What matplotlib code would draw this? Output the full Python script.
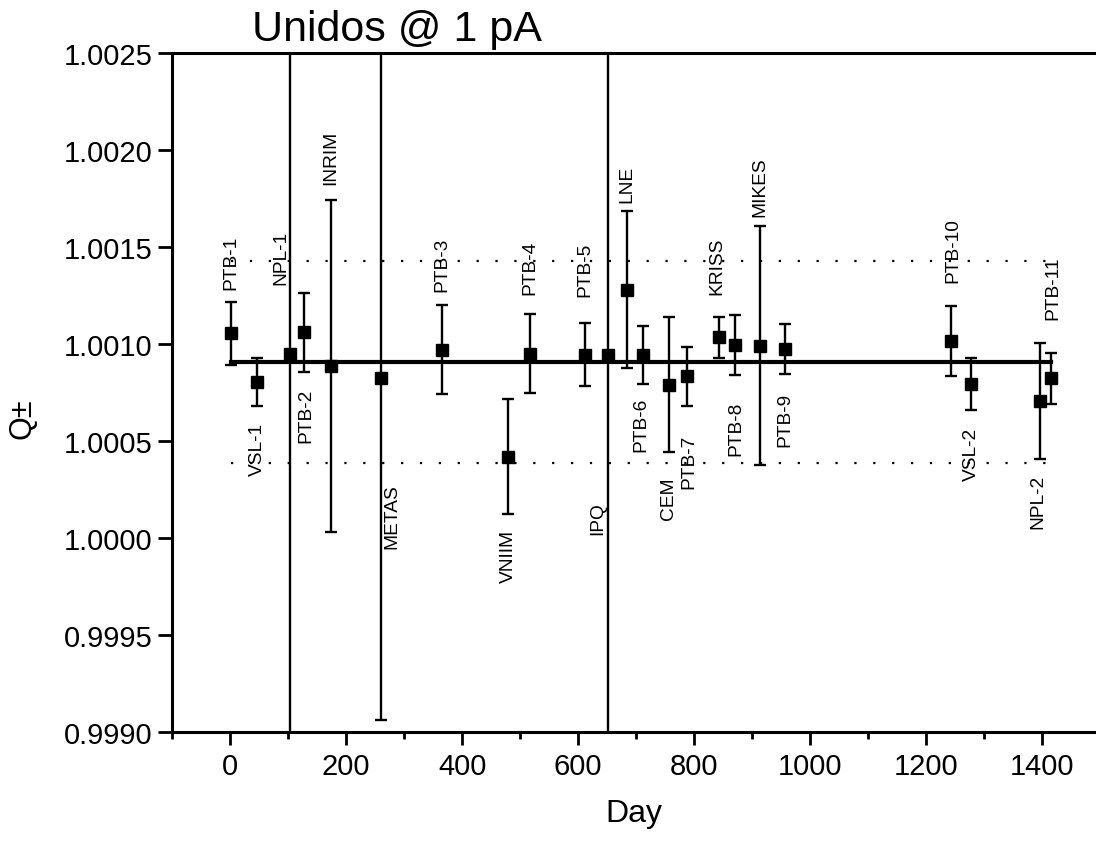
import matplotlib
matplotlib.use("Agg")
import matplotlib.pyplot as plt
from matplotlib.ticker import MultipleLocator, FormatStrFormatter

# ---- data ----
names = ["PTB-1", "VSL-1", "NPL-1", "PTB-2", "INRIM", "METAS", "PTB-3", "VNIIM",
         "PTB-4", "PTB-5", "IPQ", "LNE", "PTB-6", "CEM", "PTB-7", "KRISS",
         "PTB-8", "MIKES", "PTB-9", "PTB-10", "VSL-2", "NPL-2", "PTB-11"]
days = [1, 47, 103, 127, 174, 261, 366, 480, 517, 612, 651, 685, 712, 756, 787,
        843, 870, 914, 956, 1243, 1278, 1397, 1416]
q = [1.001055, 1.000806, 1.000949, 1.001060, 1.000888, 1.000826, 1.000971,
     1.000419, 1.000949, 1.000945, 1.000945, 1.001280, 1.000943, 1.000790,
     1.000833, 1.001034, 1.000997, 1.000991, 1.000974, 1.001017, 1.000794,
     1.000705, 1.000823]
unc = [0.000163, 0.000123, 0.003000, 0.000203, 0.000855, 0.001764, 0.000228,
       0.000297, 0.000204, 0.000162, 0.003000, 0.000406, 0.000150, 0.000348,
       0.000150, 0.000105, 0.000155, 0.000615, 0.000128, 0.000180, 0.000135,
       0.000300, 0.000133]
mean_q = 1.000906
band = 0.00052

# ---- label layout (annotation anchors) ----
label_above = [True, False, True, False, True, False, True, False, True, True,
               False, True, False, False, False, True, False, True, False,
               True, False, False, True]
label_y = [1.001284, 1.000598, 1.001309, 1.000773, 1.001825, 1.000284, 1.001273,
           1.000046, 1.001258, 1.001247, 1.000191, 1.001732, 1.000727, 1.000320,
           1.000536, 1.001258, 1.000706, 1.001660, 1.000753, 1.001320, 1.000572,
           1.000330, 1.001129]
label_dx = [0, 0, -15, 3, 0, 18, 0, 0, 0, 0, -17, 0, -3, 0, 4, -4, 2, 0, 0, 3, 0, -4, 2]

plt.rcParams['font.family'] = ['Liberation Sans', 'DejaVu Sans']

fig = plt.figure(figsize=(10.96, 8.45), dpi=100)
ax = fig.add_axes([0.157, 0.1325, 0.843, 0.8036])

ax.errorbar(days, q, yerr=unc, fmt='s', color='black', ms=8.6,
            elinewidth=1.7, capsize=4.3, capthick=1.7, zorder=3)
ax.plot([days[0], days[-1]], [mean_q, mean_q], color='black', lw=3.0, zorder=2)
for s in (1, -1):
    ax.plot([days[0], days[-1]], [mean_q + s * band] * 2, color='black', lw=1.6,
            linestyle=(0, (1, 7.5)), zorder=1)

for n, d, ly, up, dx in zip(names, days, label_y, label_above, label_dx):
    ax.text(d + dx, ly, n, rotation=90, ha='center',
            va='bottom' if up else 'top', fontsize=13.8, zorder=4)

ax.set_xlim(-100, 1493)
ax.set_ylim(0.9990, 1.0025)
ax.xaxis.set_major_locator(MultipleLocator(200))
ax.xaxis.set_minor_locator(MultipleLocator(100))
ax.yaxis.set_major_locator(MultipleLocator(0.0005))
ax.yaxis.set_major_formatter(FormatStrFormatter('%.4f'))

ax.spines['right'].set_visible(False)
for sp in ('left', 'bottom', 'top'):
    ax.spines[sp].set_linewidth(2.2)

ax.tick_params(axis='both', which='major', direction='out', width=2, labelsize=21)
ax.tick_params(axis='x', which='major', length=9.4, pad=4.7)
ax.tick_params(axis='x', which='minor', length=5, width=2)
ax.tick_params(axis='y', which='major', length=10, pad=4)
ax.tick_params(top=False, right=False)

ax.set_xlabel("Day", fontsize=23, labelpad=13.5)
fig.text(23 / 1096, 1 - 419 / 845, "Q±", rotation=90, ha='center', va='center', fontsize=22)
fig.text(397 / 1096, 1 - 30 / 845, "Unidos @ 1 pA", ha='center', va='center', fontsize=31)

fig.savefig("out.png", dpi=100)
